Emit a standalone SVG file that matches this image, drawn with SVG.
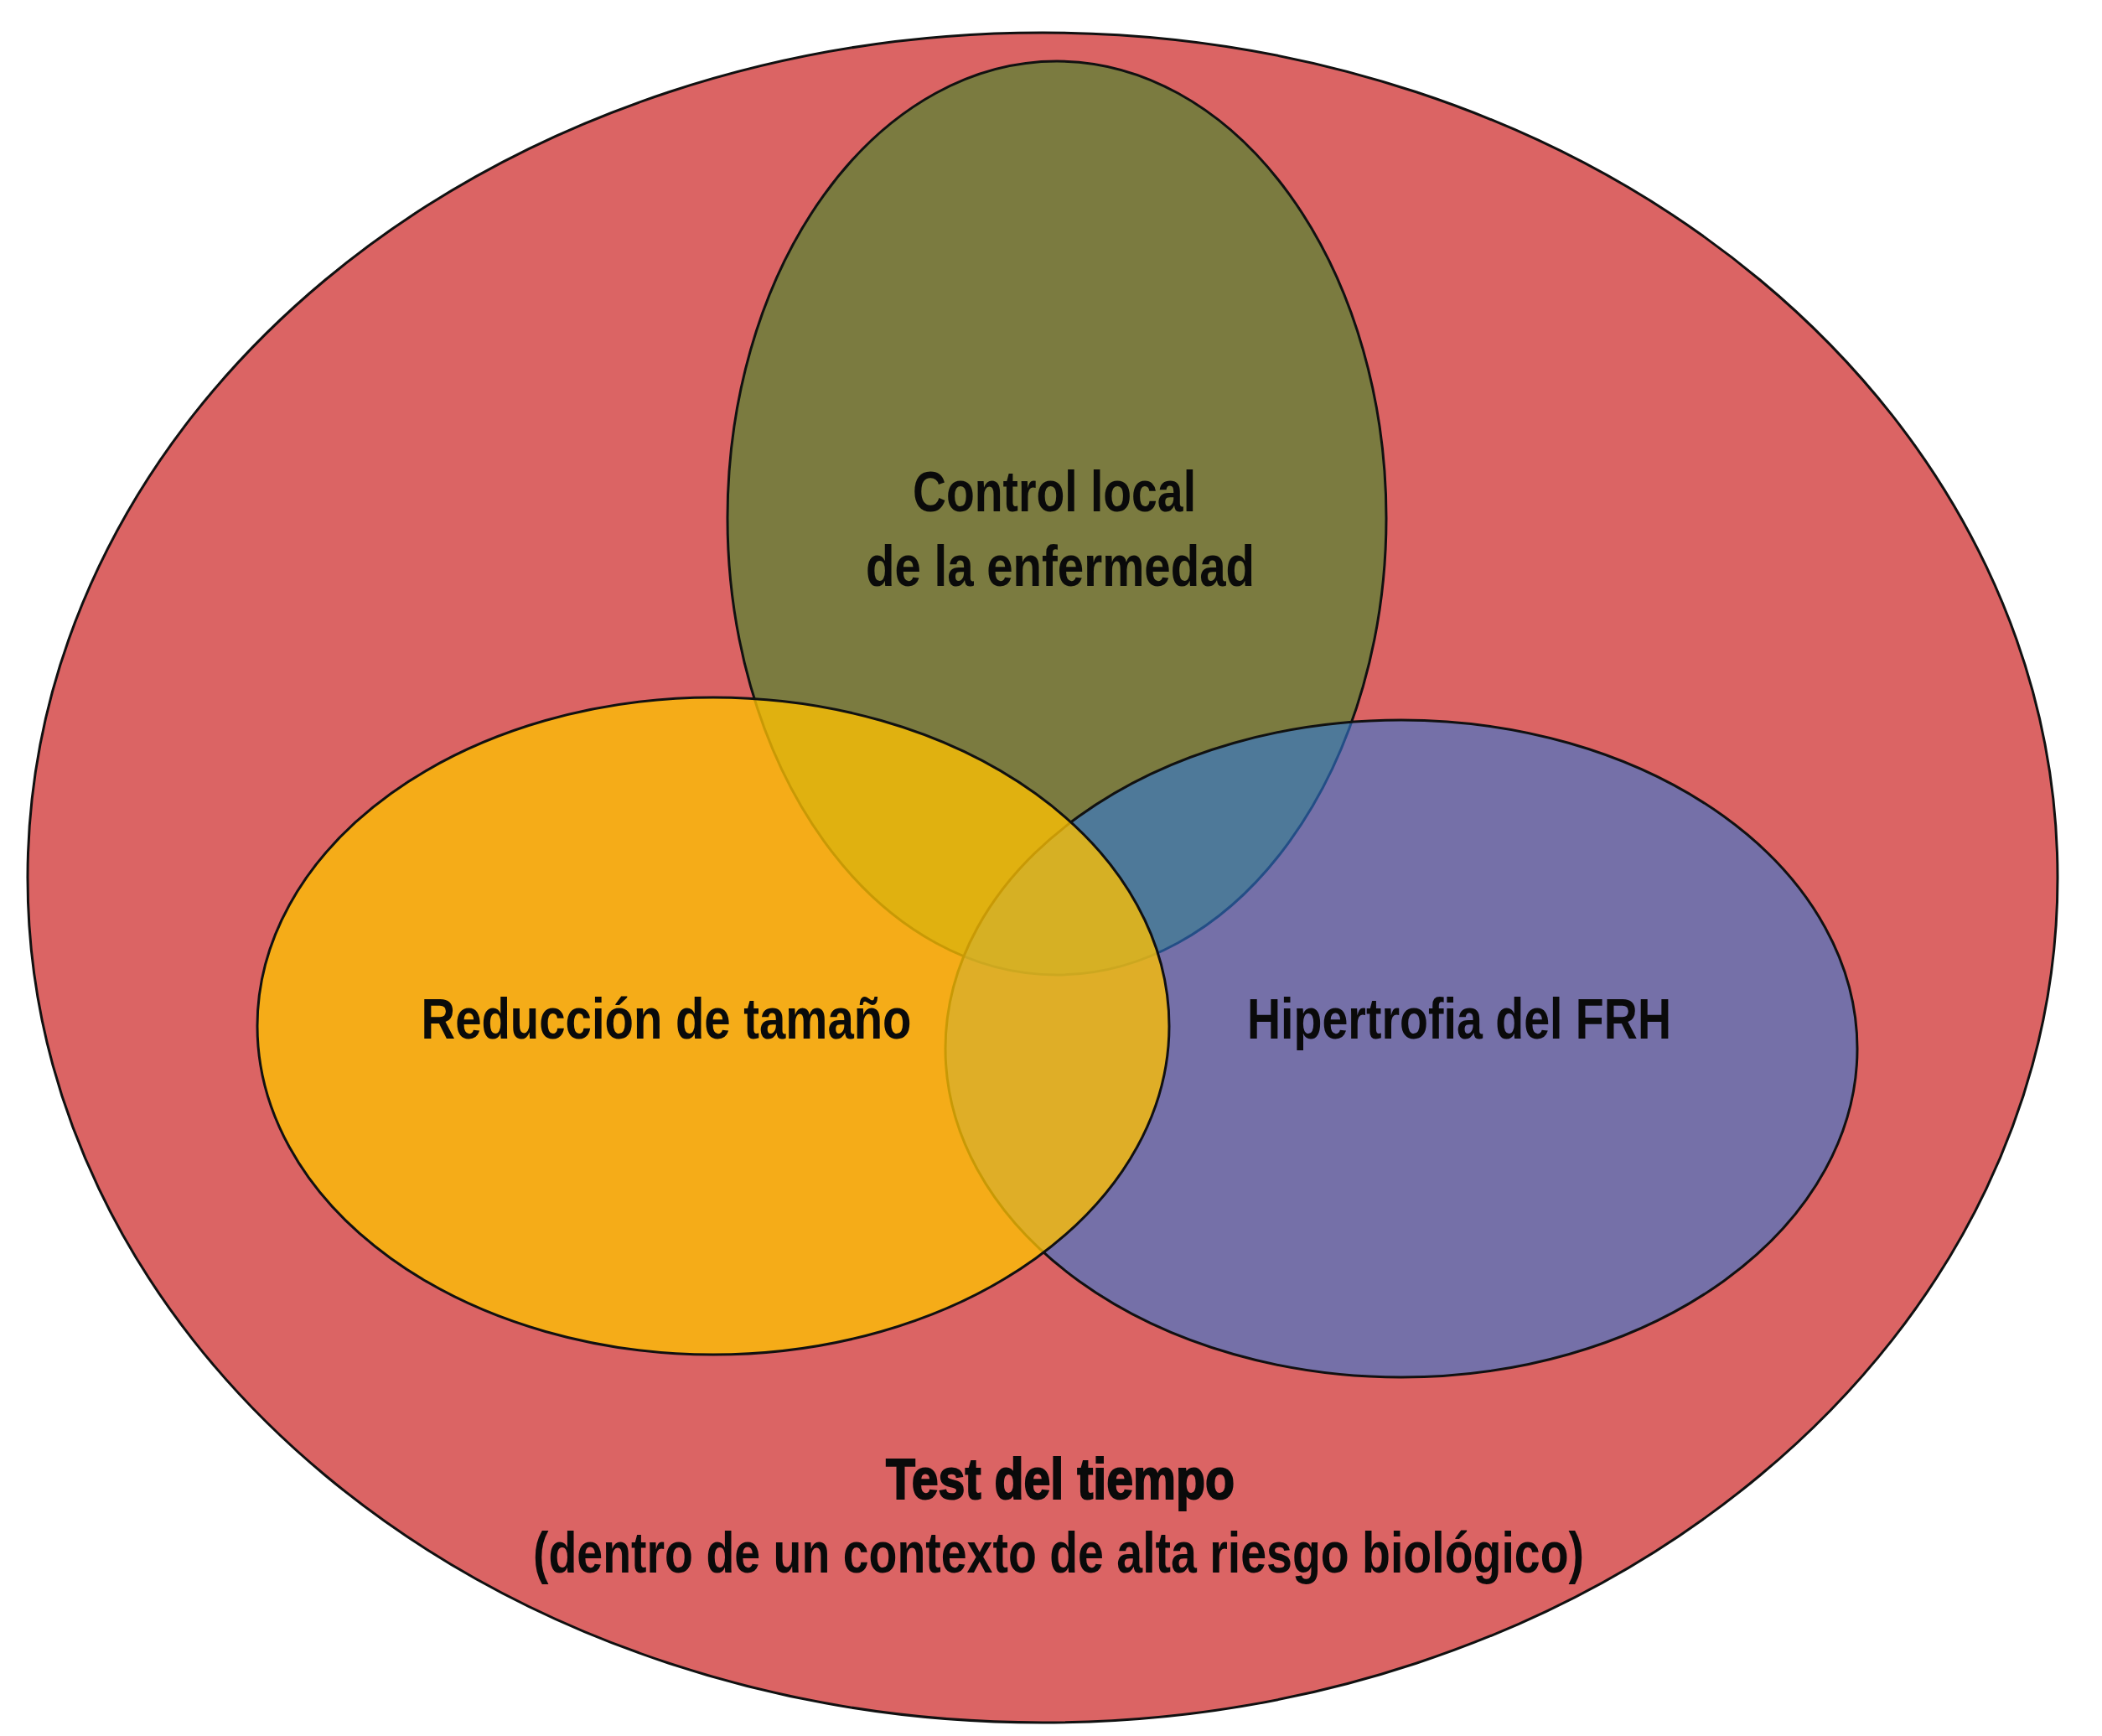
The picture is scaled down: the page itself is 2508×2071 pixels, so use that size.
<svg xmlns="http://www.w3.org/2000/svg" width="2508" height="2071" viewBox="0 0 2508 2071">
  <style>
    .shape { stroke: #111; stroke-width: 3; }
    .lbl { font-family: "Liberation Sans Narrow", "Liberation Sans", "DejaVu Sans Condensed", sans-serif; font-weight: bold; font-size: 68px; fill: #0a0a0a; text-anchor: middle; }
    .heavy { stroke: #0a0a0a; stroke-width: 2; }
  </style>
  <rect x="0" y="0" width="2508" height="2071" fill="#ffffff"/>
  <g id="test-del-tiempo">
    <ellipse class="shape" cx="1244" cy="1047" rx="1211" ry="1008" fill="#DB6464"/>
    <text class="lbl heavy" x="1265" y="1788" textLength="416" lengthAdjust="spacingAndGlyphs">Test del tiempo</text>
    <text class="lbl" x="1263" y="1876" textLength="1254" lengthAdjust="spacingAndGlyphs">(dentro de un contexto de alta riesgo biológico)</text>
  </g>
  <g id="control-local">
    <ellipse class="shape" cx="1261" cy="618" rx="393" ry="545" fill="#7B7B40"/>
    <text class="lbl" x="1258" y="610" textLength="338" lengthAdjust="spacingAndGlyphs">Control local</text>
    <text class="lbl" x="1265" y="699" textLength="464" lengthAdjust="spacingAndGlyphs">de la enfermedad</text>
  </g>
  <g id="hipertrofia">
    <ellipse class="shape" cx="1672" cy="1251" rx="544" ry="392" fill="#3078D5" fill-opacity="0.6"/>
    <text class="lbl" x="1741" y="1239" textLength="506" lengthAdjust="spacingAndGlyphs">Hipertrofia del FRH</text>
  </g>
  <g id="reduccion">
    <ellipse class="shape" cx="851" cy="1224" rx="544" ry="392" fill="#FCC003" fill-opacity="0.78"/>
    <text class="lbl" x="795" y="1239" textLength="585" lengthAdjust="spacingAndGlyphs">Reducción de tamaño</text>
  </g>
  <g id="connectors"></g>
</svg>
